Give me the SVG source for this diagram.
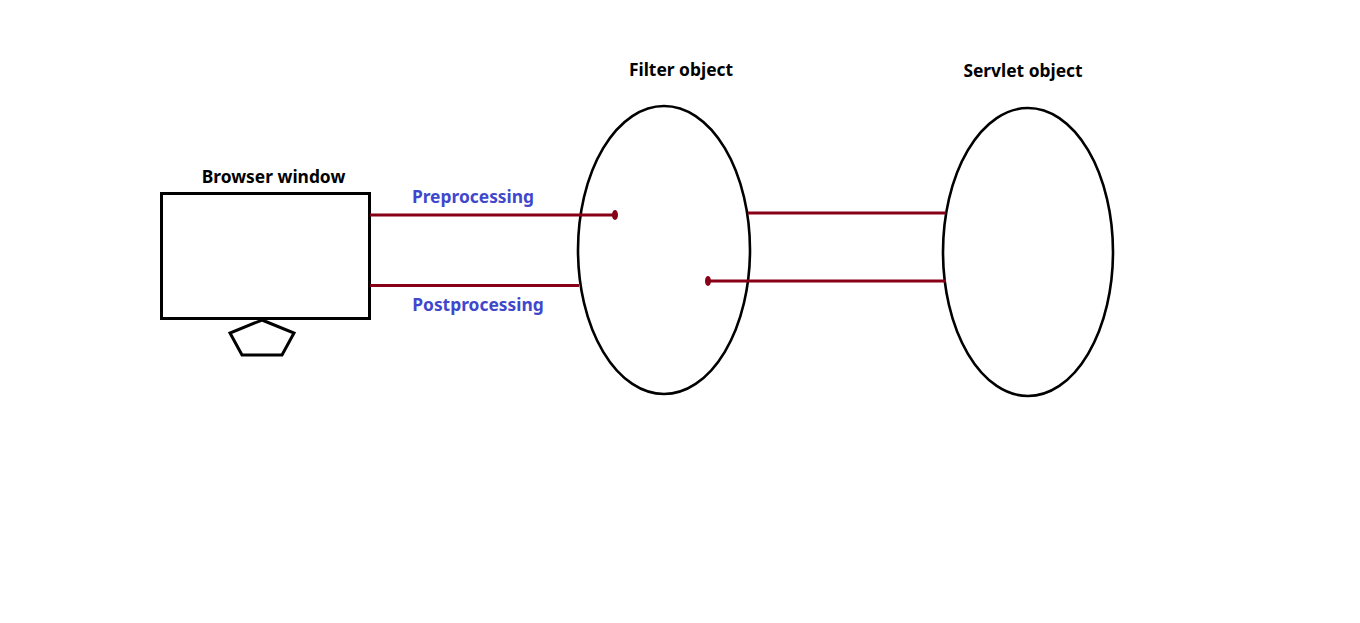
<svg xmlns="http://www.w3.org/2000/svg" width="1360" height="623" viewBox="0 0 1360 623">
<style>
.shape{fill:none;stroke:#000;stroke-width:3}
.oval{fill:none;stroke:#000;stroke-width:2.6}
.lbl{font-family:"Noto Sans","Open Sans",sans-serif;font-weight:bold;font-size:17.4px;fill:#000;text-anchor:middle}
.blue{fill:#3F48CC}
.conn{stroke:#880015;stroke-width:3;fill:none}
.dot{fill:#880015}
</style>
<rect width="1360" height="623" fill="#fff"/>
<g id="browser">
<rect class="shape" x="161.5" y="193.5" width="208" height="125"/>
<polygon class="shape" stroke-width="2.5" points="262,320 294,333 282,355 242,355 230,333"/>
<text class="lbl" x="273.5" y="183">Browser window</text>
</g>
<g id="filter">
<ellipse class="oval" cx="664" cy="250" rx="86" ry="144"/>
<text class="lbl" x="681" y="76">Filter object</text>
</g>
<g id="servlet">
<ellipse class="oval" cx="1028" cy="252" rx="85" ry="144"/>
<text class="lbl" x="1023" y="77">Servlet object</text>
</g>
<g id="connectors">
<line class="conn" x1="370" y1="215" x2="615" y2="215"/>
<ellipse class="dot" cx="615" cy="215" rx="3" ry="5"/>
<text class="lbl blue" x="473" y="203">Preprocessing</text>
<line class="conn" x1="370" y1="285.5" x2="579" y2="285.5"/>
<text class="lbl blue" x="478" y="311">Postprocessing</text>
<line class="conn" x1="748" y1="213" x2="946" y2="213"/>
<line class="conn" x1="708" y1="281" x2="946" y2="281"/>
<ellipse class="dot" cx="708" cy="281" rx="3" ry="5"/>
</g>
</svg>
